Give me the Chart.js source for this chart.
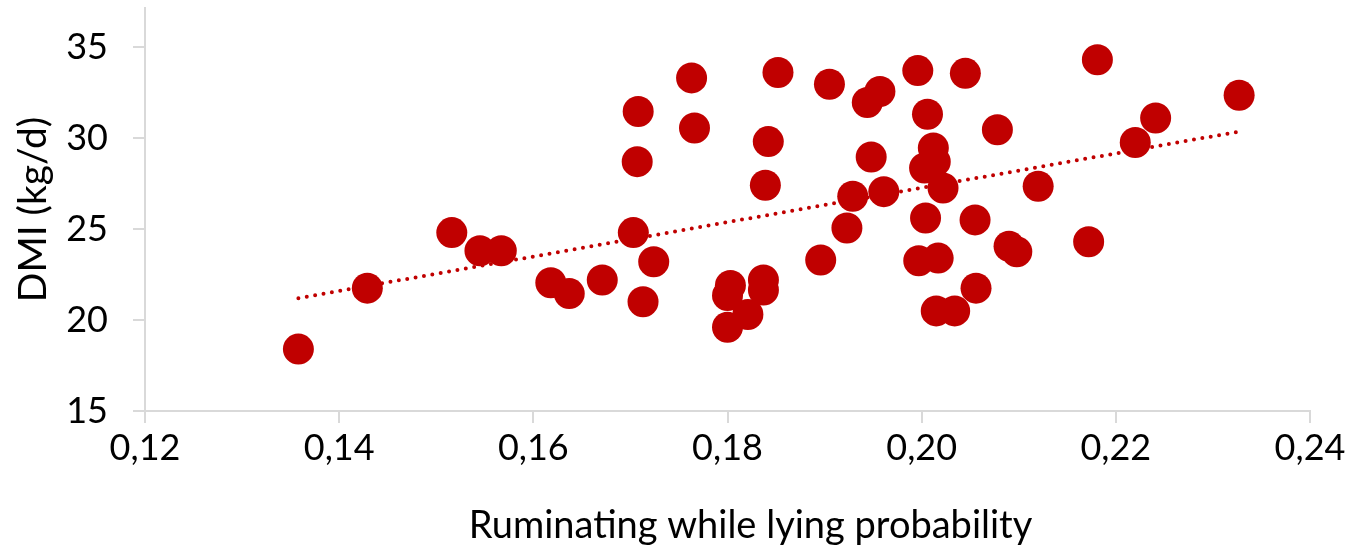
<!DOCTYPE html>
<html>
<head>
<meta charset="utf-8">
<script src="https://cdn.jsdelivr.net/npm/chart.js@4"></script>
<style>
  html, body { margin: 0; padding: 0; background: #fff; }
  #wrap { width: 1350px; height: 551px; }
</style>
</head>
<body>
<div id="wrap"><canvas id="chart" width="1350" height="551"></canvas></div>
<script>
// ruminating while lying probability (x) vs DMI kg/d (y)
const rumX = [
    0.1358, 0.1429, 0.1516, 0.1545, 0.1567, 0.1618, 0.1637, 0.1671, 0.1703, 0.1713,
    0.1708, 0.1707, 0.1763, 0.1766, 0.1852, 0.1905, 0.1957, 0.1944, 0.1996, 0.2045,
    0.2006, 0.1842, 0.1839, 0.1948, 0.2012, 0.2014, 0.2003, 0.2022, 0.1929, 0.1961,
    0.2078, 0.1923, 0.2004, 0.2055, 0.1896, 0.1997, 0.2017, 0.2056, 0.2015, 0.2034,
    0.1803, 0.1837, 0.1837, 0.1800, 0.1821, 0.1800, 0.1724, 0.2181, 0.2327, 0.2241,
    0.2220, 0.2120, 0.2172, 0.2090, 0.2098
];
const dmiY = [
    18.4, 21.75, 24.8, 23.8, 23.8, 22.05, 21.45, 22.2, 24.8, 21.0,
    31.45, 28.7, 33.3, 30.55, 33.6, 32.95, 32.55, 31.95, 33.7, 33.55,
    31.3, 29.8, 27.4, 28.95, 29.45, 28.7, 28.35, 27.25, 26.8, 27.05,
    30.45, 25.05, 25.6, 25.5, 23.3, 23.25, 23.4, 21.75, 20.5, 20.5,
    21.9, 22.2, 21.65, 21.35, 20.3, 19.6, 23.2, 34.3, 32.35, 31.1,
    29.75, 27.35, 24.3, 24.05, 23.75
];

// linear trendline ends
const trendX = [0.1358, 0.2327];
const trendY = [21.2, 30.35];

const xTicks = [0.12, 0.14, 0.16, 0.18, 0.20, 0.22, 0.24];
const yTicks = [15, 20, 25, 30, 35];
const yMax = 37.14; // axis runs a bit above the last tick

const xTitle = 'Ruminating while lying probability';
const yTitle = 'DMI (kg/d)';

const red = '#C00000';
const axisGrey = '#D9D9D9';
const fontFamily = 'Lato, "Open Sans", sans-serif';

const points = rumX.map((x, i) => ({ x: x, y: dmiY[i] }));
const trend = trendX.map((x, i) => ({ x: x, y: trendY[i] }));

const noPadding = () => ({ left: 0, top: 0, right: 0, bottom: 0 });

// x title sits a little right of the plot centre in the original
const xTitlePlugin = {
    id: 'xTitle',
    afterDraw(chart) {
        const ctx = chart.ctx;
        const area = chart.chartArea;
        ctx.save();
        ctx.fillStyle = '#000';
        ctx.font = '38px ' + fontFamily;
        ctx.textAlign = 'center';
        ctx.textBaseline = 'alphabetic';
        ctx.fillText(xTitle, (area.left + area.right) / 2 + 23, 538);
        ctx.restore();
    }
};

new Chart(document.getElementById('chart'), {
    type: 'scatter',
    data: {
        datasets: [{
            type: 'line',
            data: trend,
            borderColor: red,
            borderWidth: 4,
            borderDash: [0, 8.5],
            borderCapStyle: 'round',
            pointRadius: 0,
            fill: false
        }, {
            data: points,
            backgroundColor: red,
            borderWidth: 0,
            pointRadius: 15.5,
            pointHoverRadius: 15.5
        }]
    },
    options: {
        responsive: false,
        animation: false,
        layout: { autoPadding: false, padding: { top: 8, right: 40, left: 0, bottom: 0 } },
        plugins: {
            legend: { display: false },
            tooltip: { enabled: false }
        },
        scales: {
            x: {
                type: 'linear',
                min: 0.12,
                max: 0.24,
                afterBuildTicks: scale => {
                    scale.ticks = xTicks.map(v => ({ value: v }));
                    scale.min = xTicks[0];
                    scale.max = xTicks[xTicks.length - 1];
                },
                afterFit: scale => {
                    scale.height = 140;
                    scale.getPadding = noPadding;
                },
                ticks: {
                    color: '#000',
                    padding: 4,
                    font: { family: fontFamily, size: 36 },
                    callback: v => v.toFixed(2).replace('.', ',')
                },
                grid: { drawOnChartArea: false, drawTicks: true, tickLength: 12, color: axisGrey, lineWidth: 2 },
                border: { color: axisGrey, width: 2 }
            },
            y: {
                min: 15,
                max: yMax,
                afterBuildTicks: scale => {
                    scale.ticks = yTicks.map(v => ({ value: v }));
                    scale.min = yTicks[0];
                    scale.max = yMax;
                },
                afterFit: scale => {
                    scale.width = 145;
                    scale.getPadding = noPadding;
                },
                ticks: {
                    color: '#000',
                    padding: 25,
                    font: { family: fontFamily, size: 36 }
                },
                grid: { drawOnChartArea: false, drawTicks: true, tickLength: 12, color: axisGrey, lineWidth: 2 },
                border: { color: axisGrey, width: 2 },
                title: {
                    display: true,
                    text: yTitle,
                    color: '#000',
                    font: { family: fontFamily, size: 39 },
                    padding: { top: 10, bottom: 0 }
                }
            }
        }
    },
    plugins: [xTitlePlugin]
});
</script>
</body>
</html>
